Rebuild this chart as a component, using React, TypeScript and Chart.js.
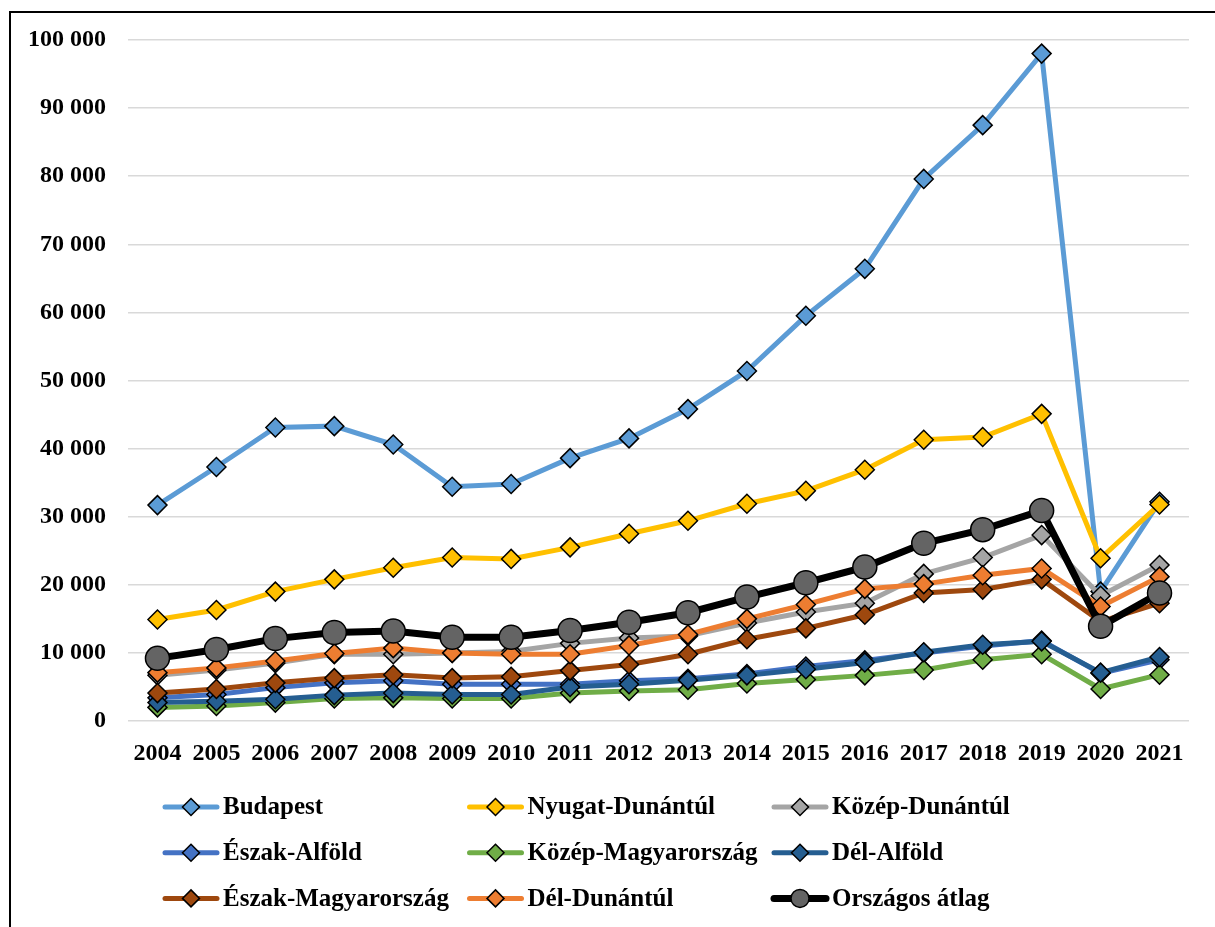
import React, { useEffect, useRef } from "react";
import { Chart, registerables } from "chart.js";

Chart.register(...registerables);

const years = ["2004", "2005", "2006", "2007", "2008", "2009", "2010", "2011", "2012", "2013", "2014", "2015", "2016", "2017", "2018", "2019", "2020", "2021"];

const budapest = [31700, 37300, 43100, 43300, 40600, 34400, 34800, 38600, 41500, 45800, 51400, 59500, 66400, 79600, 87500, 98000, 19000, 32200];
const nyugatDunantul = [14900, 16300, 19000, 20800, 22500, 24000, 23800, 25500, 27500, 29400, 31900, 33800, 36900, 41300, 41700, 45100, 23900, 31800];
const kozepDunantul = [6700, 7500, 8500, 9800, 9800, 10000, 10200, 11400, 12200, 12500, 14400, 16000, 17300, 21600, 24000, 27300, 18400, 22900];
const eszakAlfold = [3400, 3900, 4900, 5600, 5900, 5400, 5400, 5400, 5900, 6200, 6900, 8000, 8900, 10000, 11000, 11800, 7000, 9000];
const kozepMagyarorszag = [2000, 2200, 2700, 3300, 3400, 3300, 3300, 4100, 4400, 4600, 5500, 6100, 6700, 7500, 9000, 9800, 4700, 6800];
const delAlfold = [2700, 2900, 3200, 3800, 4100, 3900, 3900, 5000, 5400, 6000, 6700, 7600, 8600, 10100, 11200, 11700, 7100, 9400];
const eszakMagyarorszag = [4100, 4700, 5600, 6300, 6800, 6300, 6500, 7400, 8300, 9800, 12000, 13600, 15600, 18800, 19300, 20800, 14600, 17300];
const delDunantul = [7100, 7800, 8800, 9900, 10700, 10000, 9800, 9800, 11100, 12700, 15000, 17100, 19400, 20100, 21400, 22400, 16800, 21200];
const orszagosAtlag = [9200, 10500, 12100, 13000, 13200, 12300, 12300, 13300, 14500, 15900, 18200, 20300, 22600, 26100, 28100, 30900, 13900, 18800];

const seriesNames = ["Budapest", "Nyugat-Dunántúl", "Közép-Dunántúl", "Észak-Alföld", "Közép-Magyarország", "Dél-Alföld", "Észak-Magyarország", "Dél-Dunántúl", "Országos átlag"];
const seriesData = [budapest, nyugatDunantul, kozepDunantul, eszakAlfold, kozepMagyarorszag, delAlfold, eszakMagyarorszag, delDunantul, orszagosAtlag];
const seriesColors = ["#5B9BD5", "#FFC000", "#A5A5A5", "#4472C4", "#70AD47", "#255E91", "#9E480E", "#ED7D31", "#000000"];
const markerFills = ["#5B9BD5", "#FFC000", "#A5A5A5", "#4472C4", "#70AD47", "#255E91", "#9E480E", "#ED7D31", "#646464"];

const FONT = '"Liberation Serif", "Times New Roman", serif';

const fmt = (v: number) => String(v).replace(/\B(?=(\d{3})+(?!\d))/g, " ");

const legendPlugin = {
  id: "gridLegend",
  afterDraw(chart: any) {
    const ctx = chart.ctx as CanvasRenderingContext2D;
    const ds = chart.data.datasets;
    ctx.save();
    for (let i = 0; i < ds.length; i++) {
      const d = ds[i];
      const col = i % 3;
      const row = Math.floor(i / 3);
      const x0 = 163 + col * 304.5;
      const y = 807 + row * 45.7;
      ctx.strokeStyle = d.borderColor;
      ctx.lineWidth = d.borderWidth;
      ctx.lineCap = "round";
      ctx.beginPath();
      ctx.moveTo(x0 + 2, y);
      ctx.lineTo(x0 + 54, y);
      ctx.stroke();
      const cx = x0 + 28;
      ctx.fillStyle = d.pointBackgroundColor;
      ctx.strokeStyle = "#000";
      ctx.lineWidth = 1.5;
      ctx.beginPath();
      if (d.pointStyle === "circle") {
        ctx.arc(cx, y, 9, 0, Math.PI * 2);
      } else {
        const r = 8.5;
        ctx.moveTo(cx, y - r);
        ctx.lineTo(cx + r, y);
        ctx.lineTo(cx, y + r);
        ctx.lineTo(cx - r, y);
        ctx.closePath();
      }
      ctx.fill();
      ctx.stroke();
      ctx.fillStyle = "#000";
      ctx.font = `bold 25px ${FONT}`;
      ctx.textAlign = "left";
      ctx.textBaseline = "middle";
      ctx.fillText(d.label, x0 + 60, y + 1);
    }
    ctx.restore();
  },
};

export default function App() {
  const ref = useRef<HTMLCanvasElement | null>(null);
  useEffect(() => {
    if (!ref.current) return;
    const n = seriesData.length;
    const chart = new Chart(ref.current, {
      type: "line",
      data: {
        labels: years,
        datasets: seriesData.map((data, i) => {
          const last = i === n - 1;
          return {
            label: seriesNames[i],
            data,
            borderColor: seriesColors[i],
            backgroundColor: markerFills[i],
            borderWidth: last ? 7 : 5,
            pointStyle: last ? "circle" : "rectRot",
            pointRadius: last ? 12 : 9.5,
            pointBorderColor: "#000",
            pointBorderWidth: 1.5,
            pointBackgroundColor: markerFills[i],
            tension: 0,
            order: n - i,
            fill: false,
          } as any;
        }),
      },
      options: {
        responsive: false,
        animation: false,
        layout: { padding: { left: 28, right: 26, top: 40, bottom: 136 } },
        plugins: { legend: { display: false }, tooltip: { enabled: false } },
        scales: {
          x: {
            offset: true,
            grid: { display: false, drawTicks: false },
            border: { display: false },
            ticks: {
              color: "#000",
              font: { family: FONT, size: 24, weight: "bold" },
              padding: 18,
              maxRotation: 0,
              autoSkip: false,
            },
            afterFit: (s: any) => {
              s.height = 70;
            },
          },
          y: {
            min: 0,
            max: 100000,
            grid: { color: "#D9D9D9", lineWidth: 1.5, drawTicks: false },
            border: { display: false },
            ticks: {
              stepSize: 10000,
              color: "#000",
              font: { family: FONT, size: 24, weight: "bold" },
              padding: 22,
              callback: (v: any) => fmt(Number(v)),
            },
            afterFit: (s: any) => {
              s.width = 100;
            },
          },
        },
      } as any,
      plugins: [legendPlugin],
    });
    return () => chart.destroy();
  }, []);
  return (
    <div style={{ position: "fixed", left: 0, top: 0, width: 1215, height: 927, overflow: "hidden", background: "#fff" }}>
      <div style={{ position: "absolute", left: 9, top: 11, width: 1240, height: 960, border: "2px solid #000" }} />
      <canvas ref={ref} width={1215} height={927} style={{ position: "absolute", left: 0, top: 0, width: 1215, height: 927 }} />
    </div>
  );
}
